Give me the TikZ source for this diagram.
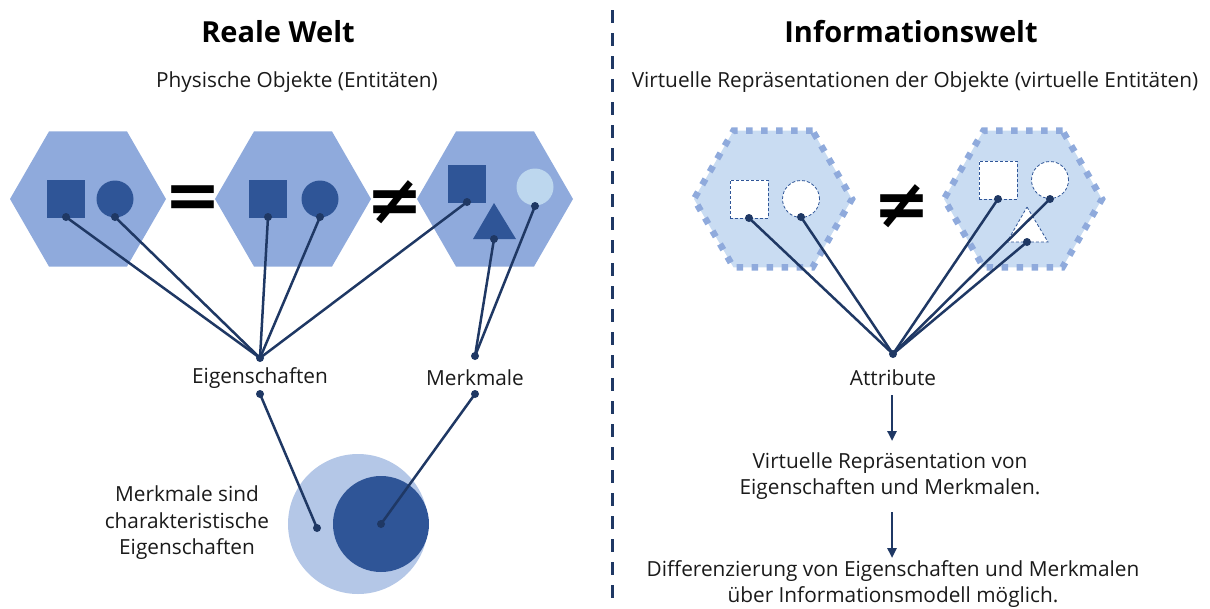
\documentclass[tikz,border=0pt]{standalone}
\usepackage{fontspec}
\setmainfont{Open Sans}
\newfontfamily\symfont{DejaVu Sans}
\usetikzlibrary{shapes.geometric, arrows.meta}

\definecolor{navy}{HTML}{1F3864}
\definecolor{hexmid}{HTML}{8FAADC}
\definecolor{objdark}{HTML}{2F5597}
\definecolor{objlight}{HTML}{BDD7EE}
\definecolor{hexpale}{HTML}{C9DCF2}
\definecolor{ringlight}{HTML}{B4C7E7}
\definecolor{ink}{HTML}{1A1A1A}

\tikzset{
  hexreal/.style={regular polygon, regular polygon sides=6, minimum size=156pt, inner sep=0pt, fill=hexmid},
  hexvirt/.style={regular polygon, regular polygon sides=6, minimum size=158pt, inner sep=0pt, fill=hexpale,
                  draw=hexmid, line width=6.5pt, dash pattern=on 6.5pt off 8.5pt},
  sq/.style={rectangle, minimum size=38pt, inner sep=0pt, fill=objdark},
  ci/.style={circle, minimum size=37pt, inner sep=0pt, fill=objdark},
  vsq/.style={rectangle, minimum size=38pt, inner sep=0pt, fill=white, draw=objdark, densely dashed, line width=0.8pt},
  vci/.style={circle, minimum size=37pt, inner sep=0pt, fill=white, draw=objdark, densely dashed, line width=0.8pt},
  pin/.style={circle, fill=navy, inner sep=0pt, minimum size=8pt},
  link/.style={draw=navy, line width=2.5pt},
  flow/.style={draw=navy, line width=2.4pt, -{Triangle[length=10pt,width=9pt]}},
  title/.style={font=\fontsize{29}{33}\selectfont\bfseries, text=black},
  txt/.style={font=\fontsize{20.8}{26.5}\selectfont, text=ink, align=center, inner sep=0pt},
  relsign/.style={font=\symfont\bfseries\fontsize{68}{68}\selectfont, text=black, inner sep=0pt},
}

\begin{document}
\begin{tikzpicture}[x=1pt, y=-1pt]
\useasboundingbox (0,0) rectangle (1210,608);

% divider between the two worlds
\draw[navy, line width=3pt, dash pattern=on 13pt off 10pt] (612,10) -- (612,608);

% headings
\node[title] (tl) at (278,32) {Reale Welt};
\node[title] (tr) at (911,32) {Informationswelt};
\node[txt] (sl) at (297,82) {Physische Objekte (Entitäten)};
\node[txt] (sr) at (915,82) {Virtuelle Repräsentationen der Objekte (virtuelle Entitäten)};

% ---------- real world: three objects ----------
\node[hexreal] (h1) at (88,199) {};
\node[hexreal] (h2) at (293,199) {};
\node[hexreal] (h3) at (495,199) {};

\node[sq] (s1) at (66,199) {};
\node[ci] (c1) at (115,199) {};
\node[sq] (s2) at (268,199) {};
\node[ci] (c2) at (320,199) {};
\node[sq] (s3) at (467,184) {};
\node[ci, fill=objlight] (c3) at (535,187) {};
\fill[objdark] (494,203) -- (516,239) -- (473,239) -- cycle;

\node[relsign] (eq) at (193,202) {=};
\node[relsign] (ne1) at (395,202) {≠};

% attachment points on the objects
\node[pin] (ps1) at (66,217) {};
\node[pin] (pc1) at (115,217) {};
\node[pin] (ps2) at (268,217) {};
\node[pin] (pc2) at (320,217) {};
\node[pin] (ps3) at (467,202) {};
\node[pin] (pt3) at (494,239) {};
\node[pin] (pc3) at (535,206) {};

\node[pin] (pe) at (260,358) {};
\node[pin] (pm) at (475,356) {};

\draw[link] (ps1.center) -- (pe.center);
\draw[link] (pc1.center) -- (pe.center);
\draw[link] (ps2.center) -- (pe.center);
\draw[link] (pc2.center) -- (pe.center);
\draw[link] (ps3.center) -- (pe.center);
\draw[link] (pt3.center) -- (pm.center);
\draw[link] (pc3.center) -- (pm.center);

\node[txt] (le) at (260,378) {Eigenschaften};
\node[txt] (lm) at (475,378) {Merkmale};

\node[pin] (qe) at (260,394) {};
\node[pin] (qm) at (475,394) {};

% features as a subset of properties
\node[circle, fill=ringlight, minimum size=140pt, inner sep=0pt] (big) at (358,524) {};
\node[circle, fill=objdark, minimum size=96pt, inner sep=0pt] (small) at (381,524) {};
\node[pin] (re) at (317,528) {};
\node[pin] (rm) at (381,524) {};
\draw[link] (qe.center) -- (re.center);
\draw[link] (qm.center) -- (rm.center);

\node[txt] (note) at (187,523) {Merkmale sind\\charakteristische\\Eigenschaften};

% ---------- information world ----------
\node[hexvirt] (v1) at (773,199) {};
\node[hexvirt] (v2) at (1023,199) {};

\node[vsq] (vs1) at (749,199) {};
\node[vci] (vc1) at (801,199) {};
\node[vsq] (vs2) at (998,180) {};
\node[vci] (vc2) at (1050,180) {};
\draw[objdark, densely dashed, line width=0.8pt, fill=white] (1027,207) -- (1048,242) -- (1007,242) -- cycle;

\node[relsign] (ne2) at (902,206) {≠};

\node[pin] (qs1) at (749,218) {};
\node[pin] (qc1) at (801,217) {};
\node[pin] (qs2) at (998,199) {};
\node[pin] (qc2) at (1050,199) {};
\node[pin] (qt2) at (1027,242) {};

\node[pin] (pa) at (893,354) {};
\draw[link] (qs1.center) -- (pa.center);
\draw[link] (qc1.center) -- (pa.center);
\draw[link] (qs2.center) -- (pa.center);
\draw[link] (qc2.center) -- (pa.center);
\draw[link] (qt2.center) -- (pa.center);

\node[txt] (la) at (893,378) {Attribute};
\node[txt] (lv) at (890,476) {Virtuelle Repräsentation von\\Eigenschaften und Merkmalen.};
\node[txt] (ld) at (893,584) {Differenzierung von Eigenschaften und Merkmalen\\über Informationsmodell möglich.};

\coordinate (a1) at (892,395);
\coordinate (a2) at (892,441);
\coordinate (b1) at (892,512);
\coordinate (b2) at (892,558);
\draw[flow] (a1) -- (a2);
\draw[flow] (b1) -- (b2);
\end{tikzpicture}
\end{document}
